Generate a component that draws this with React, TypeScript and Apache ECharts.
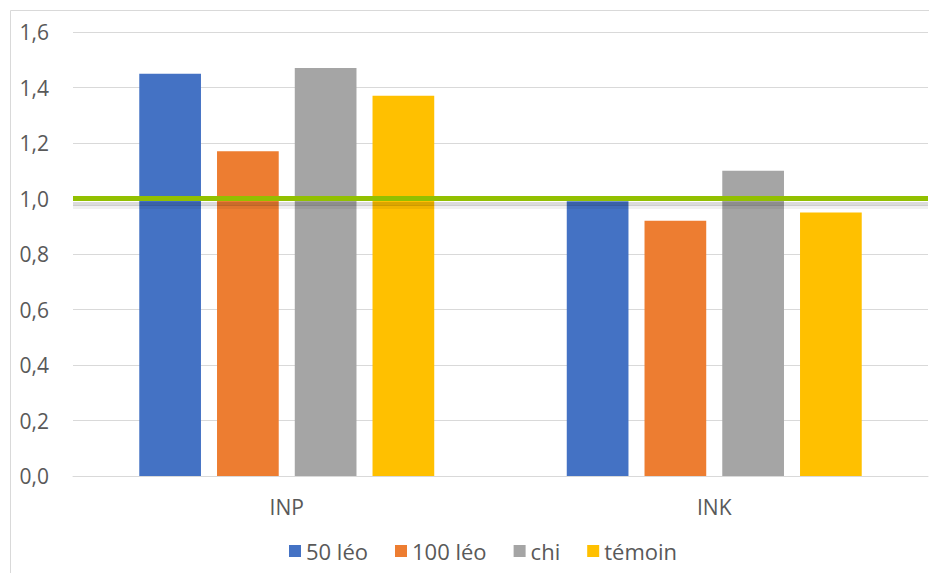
import React, { useEffect, useRef } from "react";
import * as echarts from "echarts";

const categories = ["INP", "INK"];
const seriesNames = ["50 léo", "100 léo", "chi", "témoin"];
const leo50 = [1.45, 0.99];
const leo100 = [1.17, 0.92];
const chi = [1.47, 1.1];
const temoin = [1.37, 0.95];
const referenceValue = 1.0;
const colors = ["#4472C4", "#ED7D31", "#A5A5A5", "#FFC000"];

export default function App() {
  const ref = useRef<HTMLDivElement>(null);
  useEffect(() => {
    if (!ref.current) return;
    const chart = echarts.init(ref.current, null, { renderer: "svg" });
    const font = "Open Sans, Liberation Sans, sans-serif";
    const dataSets = [leo50, leo100, chi, temoin];
    const px = 1.6 / 444;
    chart.setOption({
      animation: false,
      color: colors,
      graphic: [
        {
          type: "rect",
          shape: { x: 10.5, y: 10.5, width: 940, height: 580 },
          style: { fill: "none", stroke: "#d9d9d9", lineWidth: 1 },
          silent: true,
        },
      ],
      grid: { left: 73, right: 1, top: 32, bottom: 97, containLabel: false },
      legend: {
        bottom: 6,
        left: 284,
        itemWidth: 12,
        itemHeight: 12,
        itemGap: 27,
        icon: "rect",
        textStyle: { color: "#595959", fontSize: 22, fontFamily: font },
        data: seriesNames,
      },
      xAxis: {
        type: "category",
        data: categories,
        axisLine: { lineStyle: { color: "#d9d9d9" } },
        axisTick: { show: false },
        axisLabel: { color: "#595959", fontSize: 21, fontFamily: font, margin: 20 },
      },
      yAxis: {
        type: "value",
        min: 0,
        max: 1.6,
        interval: 0.2,
        axisLine: { show: false },
        axisTick: { show: false },
        splitLine: { lineStyle: { color: "#d9d9d9" } },
        axisLabel: {
          color: "#595959",
          fontSize: 21,
          fontFamily: font,
          margin: 24,
          formatter: (v: number) => v.toFixed(1).replace(".", ","),
        },
      },
      series: seriesNames.map((name, i) => ({
        name,
        type: "bar",
        data: dataSets[i],
        barGap: "26%",
        barCategoryGap: "31%",
        itemStyle: { color: colors[i] },
        ...(i === 3
          ? {
              markLine: {
                silent: true,
                symbol: "none",
                label: { show: false },
                data: [
                  {
                    yAxis: referenceValue - 8 * px,
                    lineStyle: { color: "rgba(0,0,0,0.06)", type: "solid", width: 4 },
                  },
                  {
                    yAxis: referenceValue - 5 * px,
                    lineStyle: { color: "rgba(0,0,0,0.14)", type: "solid", width: 4 },
                  },
                  {
                    yAxis: referenceValue,
                    lineStyle: { color: "#92C000", type: "solid", width: 5 },
                  },
                ],
              },
            }
          : {}),
      })),
    });
    return () => chart.dispose();
  }, []);
  return (
    <div
      ref={ref}
      style={{ position: "fixed", left: 0, top: 0, width: 929, height: 573, background: "#fff" }}
    />
  );
}
